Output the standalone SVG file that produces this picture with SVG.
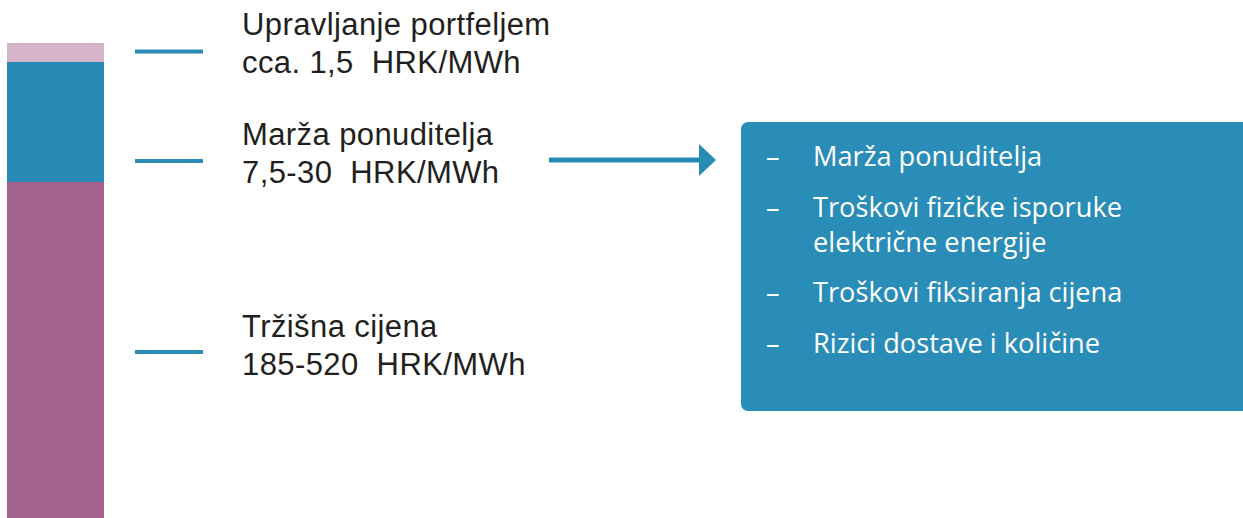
<svg xmlns="http://www.w3.org/2000/svg" width="1243" height="518" viewBox="0 0 1243 518">
<style>
.lbl{font-family:"Liberation Sans",Arial,sans-serif;font-size:31px;letter-spacing:0.4px;fill:#231f20;white-space:pre}
.box{font-family:"Open Sans","Noto Sans",sans-serif;font-size:27.2px;fill:#ffffff}
.tick{stroke:#2a8bb5;stroke-width:4}
</style>
<rect width="1243" height="518" fill="#ffffff"/>
<g id="bar">
<rect x="7" y="43" width="97" height="19" fill="#d6b5cb"/>
<rect x="7" y="62" width="97" height="120" fill="#288bb5"/>
<rect x="7" y="182" width="97" height="336" fill="#a3628b"/>
</g>
<g id="connectors">
<line class="tick" x1="135" y1="51.5" x2="203" y2="51.5"/>
<line class="tick" x1="135" y1="161" x2="203" y2="161"/>
<line class="tick" x1="135" y1="352" x2="203" y2="352"/>
<line x1="549" y1="160" x2="702" y2="160" stroke="#288bb5" stroke-width="5"/>
<polygon points="699,144 716,160 699,176" fill="#288bb5"/>
</g>
<g id="node-portfelj">
<text class="lbl" x="242" y="35">Upravljanje portfeljem</text>
<text class="lbl" x="242" y="73" xml:space="preserve">cca. 1,5  HRK/MWh</text>
</g>
<g id="node-marza">
<text class="lbl" x="242" y="145">Marža ponuditelja</text>
<text class="lbl" x="242" y="183" xml:space="preserve">7,5-30  HRK/MWh</text>
</g>
<g id="node-trzisna">
<text class="lbl" x="242" y="337">Tržišna cijena</text>
<text class="lbl" x="242" y="375" xml:space="preserve">185-520  HRK/MWh</text>
</g>
<g id="node-box">
<rect x="741" y="122" width="510" height="289" rx="7" fill="#2a8db8"/>
<g class="box">
<text x="766" y="166">–</text><text x="813" y="166">Marža ponuditelja</text>
<text x="766" y="217">–</text><text x="813" y="217">Troškovi fizičke isporuke</text>
<text x="813" y="252">električne energije</text>
<text x="766" y="302">–</text><text x="813" y="302">Troškovi fiksiranja cijena</text>
<text x="766" y="353">–</text><text x="813" y="353">Rizici dostave i količine</text>
</g>
</g>
</svg>
